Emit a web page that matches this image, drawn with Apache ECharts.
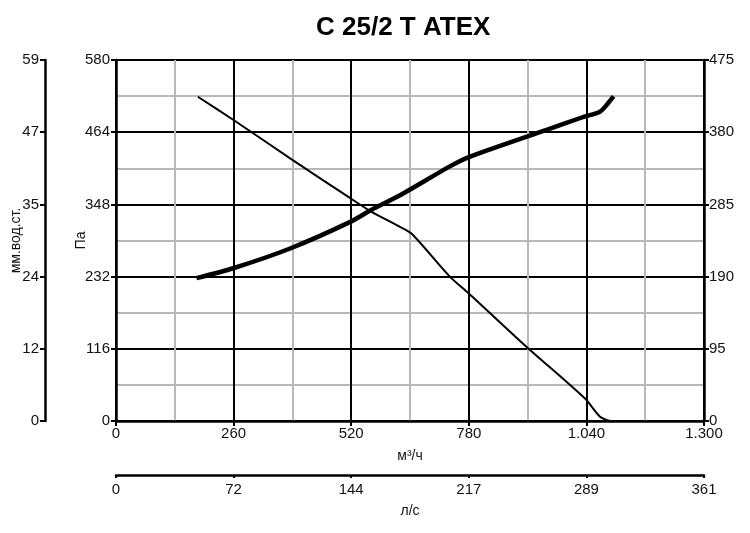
<!DOCTYPE html>
<html>
<head>
<meta charset="utf-8">
<script src="https://cdn.jsdelivr.net/npm/echarts@6/dist/echarts.min.js"></script>
<style>html,body{margin:0;padding:0;background:#fff}#c{width:750px;height:533px}</style>
</head>
<body>
<div id="c"></div>
<script>
var titleText = 'C 25/2 T ATEX';
// Pressure curve (Па) vs flow (м³/ч)
var pressureFlow = [181, 259, 385, 518, 565, 628, 655, 738, 780, 908, 1037, 1070, 1092];
var pressureVal  = [521, 484, 422, 358, 336, 312, 300, 232, 205, 119, 36, 7, 0];
// Power curve (right axis) vs flow
var powerFlow = [178, 259, 385, 518, 565, 628, 738, 779, 952, 1033, 1070, 1085, 1100];
var powerVal  = [188, 201, 227, 262, 278, 297, 335, 347, 383, 400, 407, 416, 427];
// Axis ranges
var flowMax = 1300, flowStep = 260;
var paMax = 580, paStep = 116;
var mmMax = 59;
var rightMax = 475, rightStep = 95;
var lsMax = 361;

function pairs(xs, ys){ return xs.map(function(x,i){ return [x, ys[i]]; }); }
function thousands(v){ v = Math.round(v); return v >= 1000 ? Math.floor(v/1000) + '.' + String(v%1000).padStart(3,'0') : String(v); }

var FONT = 'Liberation Sans';
var lab = {color:'#111', fontSize:15, fontFamily:FONT};
var axLine = {show:true, onZero:false, lineStyle:{color:'#000', width:2.5}};
var tick = {show:true, length:5, lineStyle:{color:'#000', width:2}};
var nameStyle = {fontFamily:FONT, fontSize:14, color:'#111'};

var chart = echarts.init(document.getElementById('c'));
chart.setOption({
  animation:false,
  backgroundColor:'#fff',
  title:{text:titleText, left:311, top:10, textStyle:{fontFamily:FONT, fontSize:26, fontWeight:'bold', color:'#000'}},
  grid:{left:116, right:46, top:60, bottom:112, containLabel:false, outerBoundsMode:'none'},
  xAxis:[
    {type:'value', min:0, max:flowMax, interval:flowStep, position:'bottom',
     name:'м³/ч', nameLocation:'middle', nameGap:28, nameMoveOverlap:false, nameTextStyle:nameStyle,
     axisLine:axLine, axisTick:tick,
     axisLabel:Object.assign({margin:5, formatter:thousands}, lab),
     splitLine:{show:true, lineStyle:{color:'#000', width:2}},
     minorTick:{show:false, splitNumber:2},
     minorSplitLine:{show:true, lineStyle:{color:'#b8b8b8', width:2}}},
    {type:'value', min:0, max:lsMax, interval:lsMax/5, position:'bottom', offset:54,
     name:'л/с', nameLocation:'middle', nameGap:29, nameMoveOverlap:false, nameTextStyle:nameStyle,
     axisLine:axLine, axisTick:{show:true, length:3, lineStyle:{color:'#000', width:2}},
     axisLabel:Object.assign({margin:7, formatter:function(v){return String(Math.round(v));}}, lab),
     splitLine:{show:false}}
  ],
  yAxis:[
    {type:'value', min:0, max:paMax, interval:paStep, position:'left',
     name:'Па', nameLocation:'middle', nameGap:28, nameRotate:90, nameMoveOverlap:false, nameTextStyle:nameStyle,
     axisLine:axLine, axisTick:tick,
     axisLabel:Object.assign({margin:6}, lab),
     splitLine:{show:true, lineStyle:{color:'#000', width:2}},
     minorTick:{show:false, splitNumber:2},
     minorSplitLine:{show:true, lineStyle:{color:'#b8b8b8', width:2}}},
    {type:'value', min:0, max:mmMax, interval:mmMax/5, position:'left', offset:71,
     name:'мм.вод.ст.', nameLocation:'middle', nameGap:22, nameRotate:90, nameMoveOverlap:false, nameTextStyle:nameStyle,
     axisLine:axLine, axisTick:tick,
     axisLabel:Object.assign({margin:6, formatter:function(v){return String(Math.round(v));}}, lab),
     splitLine:{show:false}},
    {type:'value', min:0, max:rightMax, interval:rightStep, position:'right',
     axisLine:axLine, axisTick:tick,
     axisLabel:Object.assign({margin:5}, lab),
     splitLine:{show:false}}
  ],
  series:[
    {type:'line', xAxisIndex:0, yAxisIndex:0, data:pairs(pressureFlow, pressureVal), smooth:0.25, symbol:'none',
     lineStyle:{color:'#000', width:2}},
    {type:'line', xAxisIndex:0, yAxisIndex:2, data:pairs(powerFlow, powerVal), smooth:0.25, symbol:'none',
     lineStyle:{color:'#000', width:4.5}}
  ]
});
</script>
</body>
</html>
